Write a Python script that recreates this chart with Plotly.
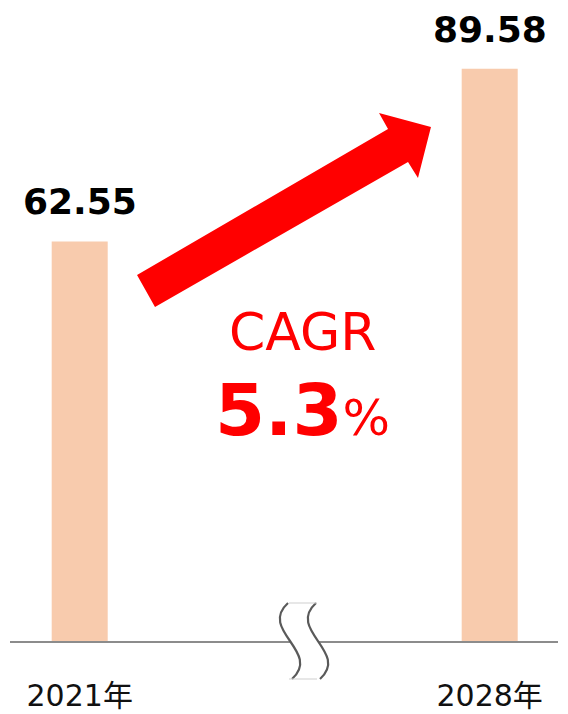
import plotly.graph_objects as go

# chart data
years = ["2021年", "2028年"]
positions = [0, 1]
market_size = [62.55, 89.58]
value_labels = ["62.55", "89.58"]
cagr_label = "CAGR"
cagr_value = "5.3"

W, H = 568, 714
M_L, M_R, M_T, M_B = 10, 10, 0, 73
PLOT_W = W - M_L - M_R
PLOT_H = H - M_T - M_B

FONT = "DejaVu Sans, Verdana, Noto Sans CJK JP, sans-serif"
BAR_COLOR = "#F8CBAD"
RED = "#FF0000"

# y scale: bars start at zero, tallest bar top at ~69px
Y_MAX = 100.35
X_RANGE = [-0.170, 1.1666]


def paper(px, py):
    # pixel in the page -> paper coordinates (used for decorations only)
    return (px - M_L) / PLOT_W, (H - M_B - py) / PLOT_H


def path_from(points):
    out = []
    for cmd, pts in points:
        coords = " ".join("%.4f,%.4f" % paper(*p) for p in pts)
        out.append(cmd + " " + coords if coords else cmd)
    return " ".join(out)


fig = go.Figure()
fig.add_trace(go.Bar(x=positions, y=market_size, width=0.1366,
                     marker=dict(color=BAR_COLOR, line=dict(width=0)),
                     hoverinfo="skip"))

for xp, v, lbl in zip(positions, market_size, value_labels):
    fig.add_annotation(x=xp, y=v, text="<b>%s</b>" % lbl, showarrow=False,
                       xanchor="center", yanchor="bottom", yshift=17,
                       font=dict(family=FONT, size=36, color="#000000"))

# red growth arrow
arrow = path_from([
    ("M", [(155, 307)]), ("L", [(137, 275)]), ("L", [(388, 129)]),
    ("L", [(379, 113)]), ("L", [(431, 127)]), ("L", [(418, 178)]),
    ("L", [(408, 162)]), ("Z", []),
])
fig.add_shape(type="path", xref="paper", yref="paper", path=arrow,
              fillcolor=RED, line=dict(width=0), layer="above")

fig.add_annotation(xref="paper", yref="paper", x=paper(302, 0)[0], y=paper(0, 352)[1],
                   text=cagr_label, showarrow=False, xanchor="center", yanchor="bottom",
                   yshift=-12, font=dict(family=FONT, size=52, color=RED))
fig.add_annotation(xref="paper", yref="paper", x=paper(302, 0)[0], y=paper(0, 437)[1],
                   text="<b>%s</b><span style='font-size:50px'>%%</span>" % cagr_value,
                   showarrow=False, xanchor="center", yanchor="bottom",
                   yshift=-17, font=dict(family=FONT, size=72, color=RED))

# axis break symbol
fill = path_from([
    ("M", [(288, 603)]), ("L", [(316, 603)]),
    ("C", [(286, 630), (350, 652), (320, 679)]),
    ("L", [(292, 679)]),
    ("C", [(322, 652), (258, 630), (288, 603)]), ("Z", []),
])
fig.add_shape(type="path", xref="paper", yref="paper", path=fill,
              fillcolor="white", line=dict(width=0), layer="above")
for dx in (0, 28):
    curve = path_from([
        ("M", [(288 + dx, 603)]),
        ("C", [(258 + dx, 630), (322 + dx, 652), (292 + dx, 679)]),
    ])
    fig.add_shape(type="path", xref="paper", yref="paper", path=curve,
                  line=dict(color="#5A5A5A", width=2.2), layer="above")
for y_edge in (603, 679):
    x0, y0 = paper(289, y_edge)
    x1, y1 = paper(317, y_edge)
    fig.add_shape(type="line", xref="paper", yref="paper", x0=x0, y0=y0, x1=x1, y1=y1,
                  line=dict(color="#CFCFCF", width=1), layer="above")

fig.update_layout(
    width=W, height=H,
    margin=dict(l=M_L, r=M_R, t=M_T, b=M_B),
    paper_bgcolor="white", plot_bgcolor="white",
    showlegend=False,
    font=dict(family=FONT),
    xaxis=dict(range=X_RANGE, tickvals=positions, ticktext=years,
               showline=True, linecolor="#8C8C8C", linewidth=2,
               showgrid=False, zeroline=False, ticks="",
               ticklabelstandoff=27,
               tickfont=dict(family=FONT, size=30, color="#111111"),
               fixedrange=True),
    yaxis=dict(range=[0, Y_MAX], visible=False, showgrid=False,
               zeroline=False, fixedrange=True),
)

# the page body has a default 8px margin; drop it so the figure fills the window
fig.write_html("out.html", config={"displayModeBar": False},
               post_script="document.body.style.margin = '0';")
